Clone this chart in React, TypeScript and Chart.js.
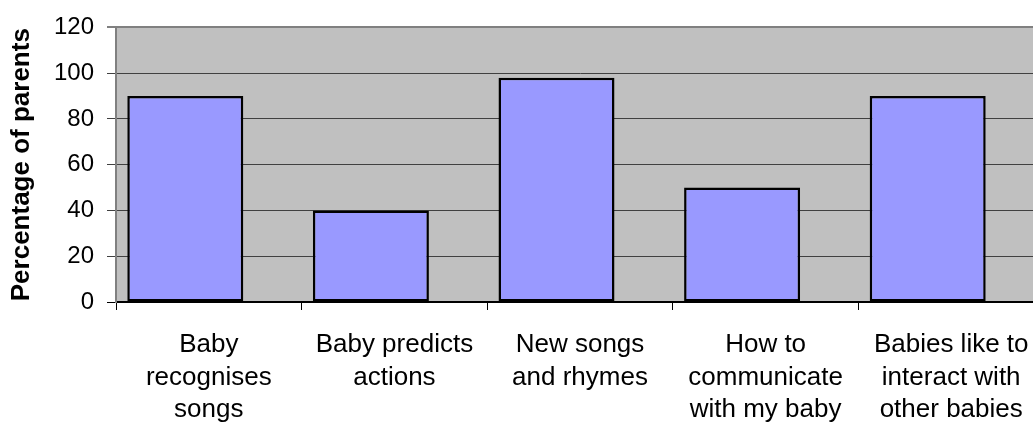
import React, { useEffect, useRef } from "react";
import { Chart, registerables } from "chart.js";

Chart.register(...registerables);

const categories: string[][] = [
  ["Baby", "recognises", "songs"],
  ["Baby predicts", "actions"],
  ["New songs", "and rhymes"],
  ["How to", "communicate", "with my baby"],
  ["Babies like to", "interact with", "other babies"],
];
const percentages: number[] = [90, 40, 98, 50, 90];
const emptySeries: (number | null)[] = [null, null, null, null, null];
const yTicks: number[] = [0, 20, 40, 60, 80, 100, 120];
const yTitle = "Percentage of parents";

const FONT = "'Liberation Sans', Arial, sans-serif";

const plotBg = {
  id: "plotBg",
  beforeDraw(chart: any) {
    const { ctx, chartArea } = chart;
    ctx.save();
    ctx.fillStyle = "#C0C0C0";
    ctx.fillRect(chartArea.left, chartArea.top, chartArea.right - chartArea.left, chartArea.bottom - chartArea.top);
    ctx.restore();
  },
};

export default function App() {
  const ref = useRef<HTMLCanvasElement | null>(null);
  useEffect(() => {
    if (!ref.current) return;
    const chart = new Chart(ref.current, {
      type: "bar",
      data: {
        labels: categories,
        datasets: [
          {
            label: "Parents",
            data: percentages,
            backgroundColor: "#9999FF",
            borderColor: "#000000",
            borderWidth: 2.5,
            borderSkipped: false,
            categoryPercentage: 0.5065,
            barPercentage: 2.468,
          },
          {
            label: "",
            data: emptySeries,
            backgroundColor: "#9999FF",
            categoryPercentage: 0.5065,
            barPercentage: 2.468,
          },
        ],
      },
      options: {
        responsive: false,
        animation: false,
        devicePixelRatio: 1,
        layout: { padding: { top: 24, left: 0, right: 0, bottom: 0 } },
        plugins: { legend: { display: false }, tooltip: { enabled: false } },
        scales: {
          x: {
            grid: {
              display: true,
              drawOnChartArea: false,
              drawTicks: true,
              tickLength: 8,
              color: "#000000",
              lineWidth: 1,
            },
            border: { display: true, color: "#000000", width: 2 },
            ticks: {
              color: "#000000",
              font: { family: FONT, size: 26, lineHeight: 1.24 },
              padding: 19,
              maxRotation: 0,
              autoSkip: false,
            },
            afterFit: (s: any) => {
              s.height = 121;
              s.paddingLeft = 0;
              s.paddingRight = 0;
            },
          },
          y: {
            min: 0,
            max: 120,
            afterBuildTicks: (s: any) => {
              s.ticks = yTicks.map((v) => ({ value: v }));
            },
            grid: {
              color: (c: any) => (c.tick && c.tick.value === 120 ? "#808080" : c.tick && c.tick.value === 0 ? "#000000" : "#404040"),
              lineWidth: (c: any) => (c.tick && c.tick.value === 120 ? 2 : 1),
              tickLength: 9,
              drawTicks: true,
            },
            border: { display: true, color: "#808080", width: 2 },
            ticks: {
              color: "#000000",
              font: { family: FONT, size: 24 },
              padding: 13,
            },
            title: {
              display: true,
              text: yTitle,
              color: "#000000",
              font: { family: FONT, size: 26, weight: "bold" },
              padding: { top: 6, bottom: 0 },
            },
            afterFit: (s: any) => {
              s.width = 116;
            },
          },
        },
      },
      plugins: [plotBg],
    });
    return () => chart.destroy();
  }, []);
  return (
    <div style={{ position: "fixed", left: 0, top: 0, width: 1033, height: 423, overflow: "hidden", background: "#fff" }}>
      <canvas ref={ref} width={1044} height={423} style={{ width: 1044, height: 423, display: "block" }} />
    </div>
  );
}
